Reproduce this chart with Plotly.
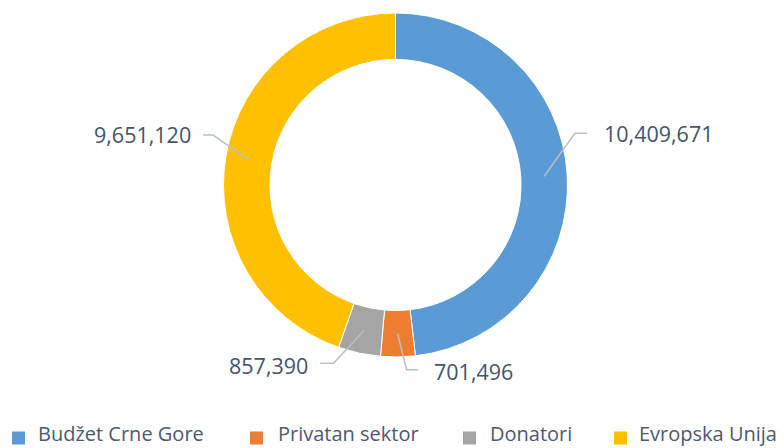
import math
import plotly.graph_objects as go

categories = ["Budžet Crne Gore", "Privatan sektor", "Donatori", "Evropska Unija"]
values = [10409671, 701496, 857390, 9651120]
colors = ["#5B9BD5", "#ED7D31", "#A5A5A5", "#FFC000"]
label_texts = ["10,409,671", "701,496", "857,390", "9,651,120"]

# page offset (browser body margin) and figure size
OFF = 8
W, H = 784 - OFF, 448 - OFF
# donut geometry in window pixels
CX, CY, R = 395.5, 185, 172
HOLE = 0.73

# leader-line styling per label: (elbow dx, elbow dy, horizontal length, text gap, text dy)
leader_style = [(31, -43, 12, 15, 0.5), (9, 36, 11.7, 13.4, 1.7),
                (-30.7, 32.7, -13.3, -10, 2), (-35.6, -25, -10, -10, -1)]
# legend layout (window pixels): marker left edges, text left edges, marker center y
legend_marker_x = [12, 250, 463, 614]
legend_text_x = [37, 277, 489, 638]
LEG_Y, LEG_SQ = 438, 13

px = lambda x: (x - OFF) / W
py = lambda y: 1 - (y - OFF) / H

fig = go.Figure(go.Pie(
    labels=categories, values=values, sort=False, direction="clockwise", rotation=0,
    hole=HOLE, textinfo="none", hoverinfo="label+value", showlegend=False,
    marker=dict(colors=colors, line=dict(color="white", width=1)),
    domain=dict(x=[px(CX - R), px(CX + R)], y=[py(CY + R), py(CY - R)]),
))

total = sum(values)
cum = 0
shapes, annotations = [], []
rmid = R * (1 + HOLE) / 2
for v, txt, (edx, edy, hl, gap, tdy) in zip(values, label_texts, leader_style):
    mid = (cum + v / 2) / total * 360
    cum += v
    ang = math.radians(90 - mid)
    sx = CX + rmid * math.cos(ang)
    sy = CY - rmid * math.sin(ang)
    ex, ey = sx + edx, sy + edy
    hx = ex + hl
    shapes.append(dict(type="path", xref="paper", yref="paper",
                       path=f"M {px(sx)} {py(sy)} L {px(ex)} {py(ey)} L {px(hx)} {py(ey)}",
                       line=dict(color="#B8C0CC", width=1.5)))
    annotations.append(dict(text=txt, x=px(hx + gap), y=py(ey + tdy), xref="paper", yref="paper",
                            xanchor="left" if gap > 0 else "right", yanchor="middle",
                            showarrow=False, font=dict(size=21.5, color="#44546A", family="Open Sans")))

# legend drawn from categories / colors
for name, col, mx, tx in zip(categories, colors, legend_marker_x, legend_text_x):
    shapes.append(dict(type="rect", xref="paper", yref="paper",
                       x0=px(mx), x1=px(mx + LEG_SQ),
                       y0=py(LEG_Y + LEG_SQ / 2), y1=py(LEG_Y - LEG_SQ / 2),
                       fillcolor=col, line=dict(width=0)))
    annotations.append(dict(text=name, x=px(tx), y=0, xref="paper", yref="paper",
                            xanchor="left", yanchor="bottom", showarrow=False, borderpad=0,
                            font=dict(size=20, color="#4E5A6B", family="Open Sans")))

fig.update_layout(
    width=W, height=H, margin=dict(l=0, r=0, t=0, b=0, autoexpand=False),
    paper_bgcolor="white", plot_bgcolor="white",
    shapes=shapes, annotations=annotations, showlegend=False,
)
fig.write_html("out.html")
